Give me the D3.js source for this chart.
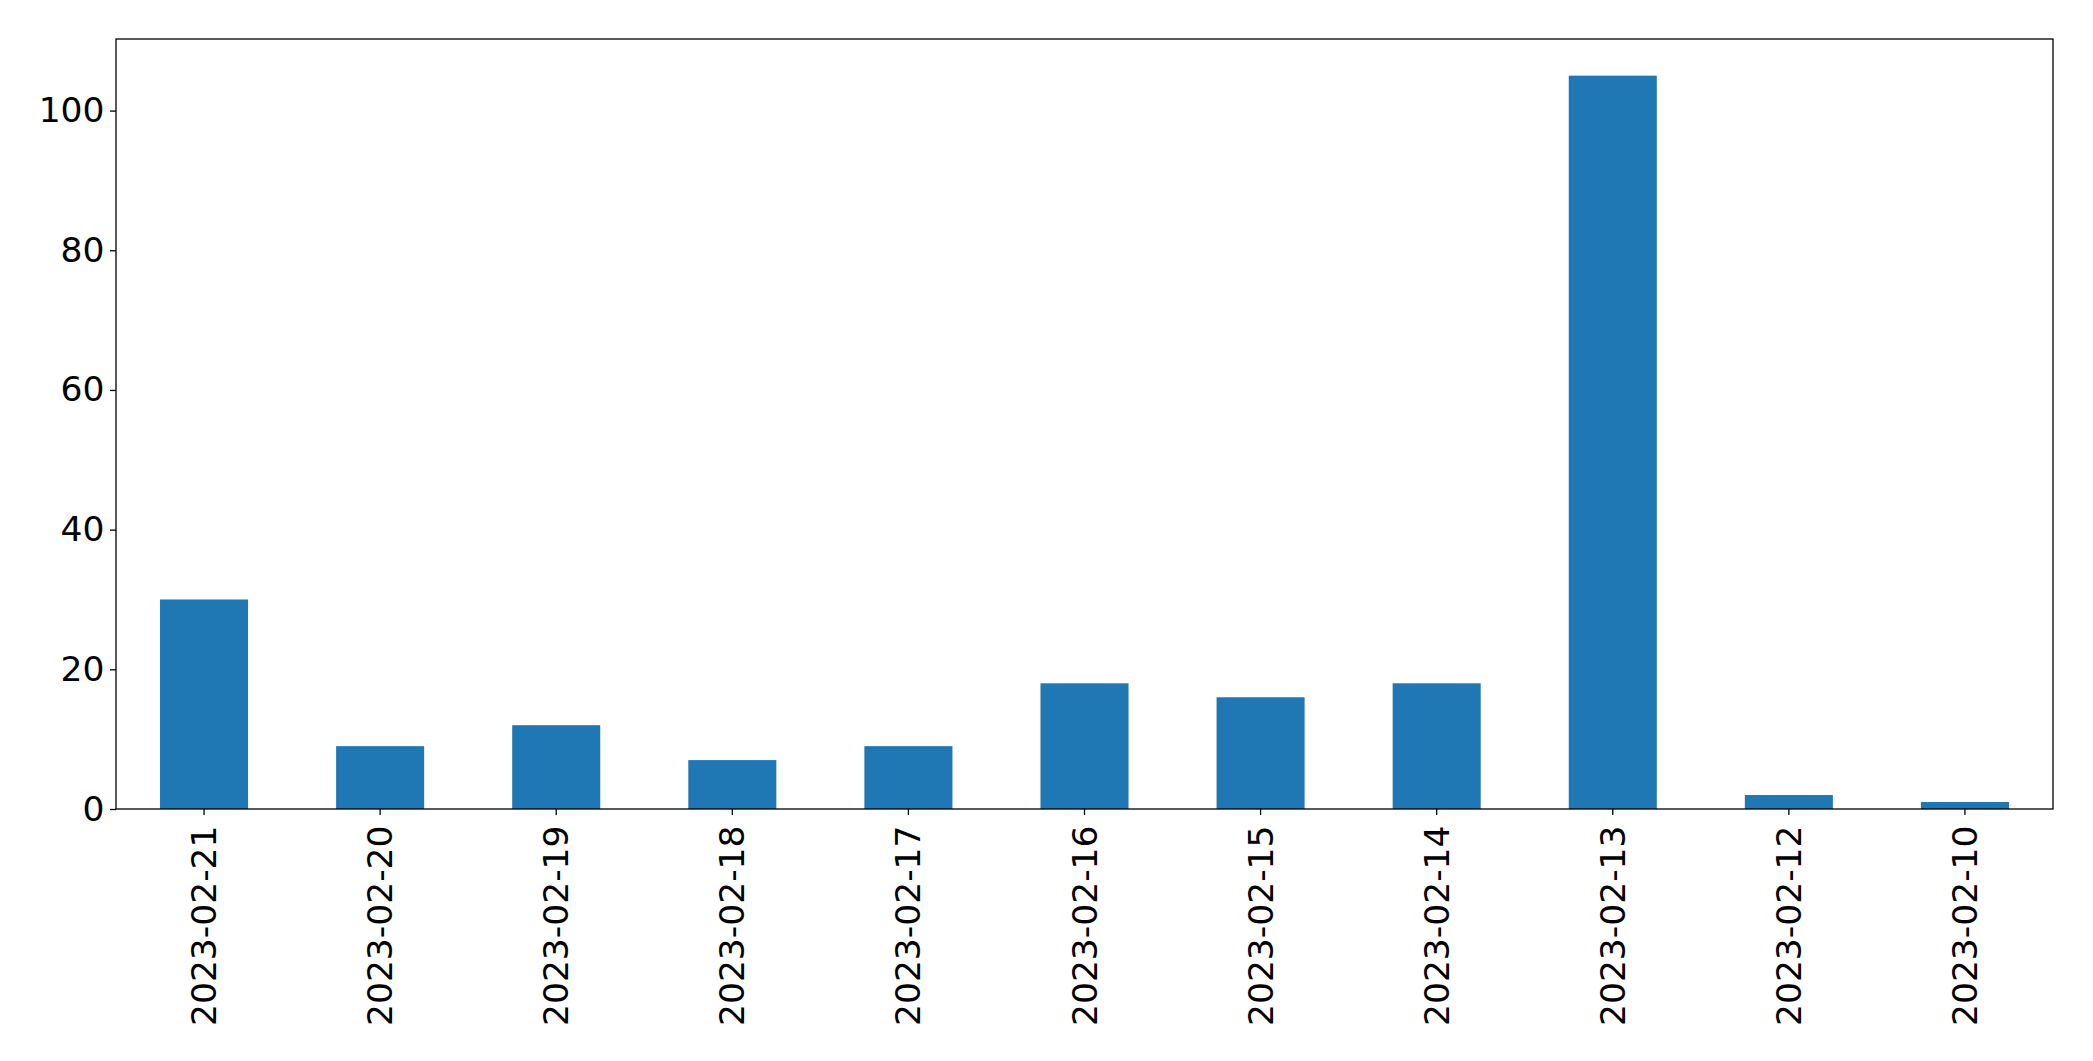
<!DOCTYPE html>
<html>
<head>
<meta charset="utf-8">
<script src="https://cdn.jsdelivr.net/npm/d3@7"></script>
<style>
  html, body { margin: 0; padding: 0; background: #fff; }
  svg text { font-family: "DejaVu Sans", sans-serif; }
</style>
</head>
<body>
<svg id="chart" width="2093" height="1061"></svg>
<script>
const categories = ["2023-02-21","2023-02-20","2023-02-19","2023-02-18","2023-02-17","2023-02-16","2023-02-15","2023-02-14","2023-02-13","2023-02-12","2023-02-10"];
const values = [30, 9, 12, 7, 9, 18, 16, 18, 105, 2, 1];
const yTicks = [0, 20, 40, 60, 80, 100];

const margin = {left: 116, right: 2093 - 2053, top: 39, bottom: 1061 - 809};
const W = 2093, H = 1061;
const svg = d3.select("#chart");

const x = d3.scaleBand().domain(categories).range([margin.left, W - margin.right]).paddingInner(0.5).paddingOuter(0.25);
const yMax = d3.max(values) * 1.05;
const y = d3.scaleLinear().domain([0, yMax]).range([H - margin.bottom, margin.top]);

svg.append("g").selectAll("rect").data(values).join("rect")
  .attr("x", (d, i) => x(categories[i]))
  .attr("width", x.bandwidth())
  .attr("y", d => y(d))
  .attr("height", d => y(0) - y(d))
  .attr("fill", "#1f77b4");

const fs = "34.5px";
const yAxis = svg.append("g").attr("transform", `translate(${margin.left},0)`)
  .call(d3.axisLeft(y).tickValues(yTicks).tickSize(6).tickPadding(5.5).tickFormat(d3.format("d")));
yAxis.select(".domain").remove();
yAxis.selectAll("text").style("font-size", fs).attr("fill", "#000");
yAxis.selectAll("line").attr("stroke", "#000").attr("stroke-width", 1.3);

const xAxis = svg.append("g").attr("transform", `translate(0,${H - margin.bottom})`)
  .call(d3.axisBottom(x).tickSize(6).tickPadding(10));
xAxis.select(".domain").remove();
xAxis.selectAll("line").attr("stroke", "#000").attr("stroke-width", 1.3);
xAxis.selectAll("text")
  .style("font-size", fs).attr("fill", "#000")
  .attr("transform", "rotate(-90)")
  .attr("x", -16.5).attr("y", 0).attr("dy", "0.35em")
  .attr("text-anchor", "end");

svg.append("rect")
  .attr("x", margin.left).attr("y", margin.top)
  .attr("width", W - margin.right - margin.left)
  .attr("height", H - margin.bottom - margin.top)
  .attr("fill", "none").attr("stroke", "#000").attr("stroke-width", 1.3);
</script>
</body>
</html>
